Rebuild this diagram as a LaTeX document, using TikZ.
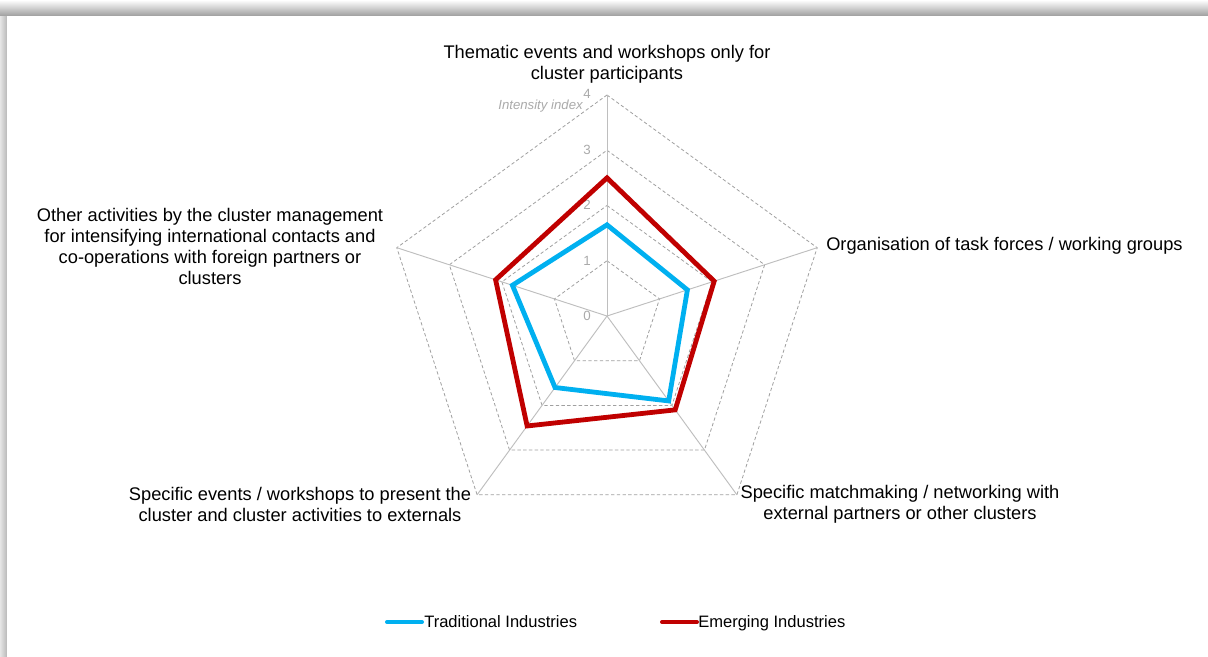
\documentclass[tikz,border=0pt]{standalone}
\usepackage{fontspec}
\setmainfont{Liberation Sans}
\usetikzlibrary{calc}
\definecolor{trad}{RGB}{0,176,240}
\definecolor{emer}{RGB}{192,0,0}
\definecolor{spokegray}{RGB}{190,190,190}
\definecolor{ringgray}{RGB}{160,160,160}
\definecolor{tickgray}{RGB}{170,170,170}
\begin{document}
\begin{tikzpicture}[x=0.75pt,y=-0.75pt,
  spoke/.style={draw=spokegray, line width=0.7pt},
  ring/.style={draw=ringgray, dash pattern=on 2.5pt off 1.8pt, line width=0.6pt},
  series/.style={line width=3.6pt, line join=miter},
  axlabel/.style={font=\fontsize{13.7}{15.75}\selectfont, align=center, inner sep=0pt},
  ticklabel/.style={text=tickgray, font=\fontsize{10}{11}\selectfont, inner sep=0pt},
  legtext/.style={font=\fontsize{12.4}{13}\selectfont, inner sep=0pt, anchor=base west}]
\useasboundingbox (0,0) rectangle (1208,657);
% panel shadow
\shade[top color=white, bottom color=black!38] (0,0) rectangle (1208,16);
\shade[left color=black!10, right color=black!28] (0,16) rectangle (7,657);
\fill[white] (7,16) rectangle (1208,657);
% radar geometry
\coordinate (O) at (607,316);
\def\u{55.25}
\foreach \k in {0,...,4}{
  \foreach \r in {1,2,3,4}{
    \coordinate (R\r-\k) at ($(O)+({72*\k-90}:{\r*\u})$);
  }
}
% rings
\foreach \r in {1,2,3,4}{
  \draw[ring] (R\r-0) -- (R\r-1) -- (R\r-2) -- (R\r-3) -- (R\r-4) -- cycle;
}
% spokes
\foreach \k in {0,...,4}{
  \draw[spoke] (O) -- (R4-\k);
}
% tick labels
\node[ticklabel] (t0) at (587,316) {0};
\node[ticklabel] (t1) at (587,261) {1};
\node[ticklabel] (t2) at (587,205) {2};
\node[ticklabel] (t3) at (587,150) {3};
\node[ticklabel] (t4) at (587,94) {4};
\node[ticklabel, anchor=east, font=\itshape\fontsize{9.9}{11}\selectfont] (ii) at (583,106) {Intensity index};
% series
\coordinate (T0) at ($(O)+(-90:{1.65*\u})$);
\coordinate (T1) at ($(O)+(-18:{1.53*\u})$);
\coordinate (T2) at ($(O)+(54:{1.9*\u})$);
\coordinate (T3) at ($(O)+(126:{1.6*\u})$);
\coordinate (T4) at ($(O)+(198:{1.8*\u})$);
\coordinate (E0) at ($(O)+(-90:{2.5*\u})$);
\coordinate (E1) at ($(O)+(-18:{2.04*\u})$);
\coordinate (E2) at ($(O)+(54:{2.1*\u})$);
\coordinate (E3) at ($(O)+(126:{2.46*\u})$);
\coordinate (E4) at ($(O)+(198:{2.12*\u})$);
\draw[series, trad] (T0) -- (T1) -- (T2) -- (T3) -- (T4) -- cycle;
\draw[series, emer] (E0) -- (E1) -- (E2) -- (E3) -- (E4) -- cycle;
% axis labels
\node[axlabel] (L0) at (607,64.5) {Thematic events and workshops only for\\cluster participants};
\node[axlabel, anchor=west] (L1) at (826,246) {Organisation of task forces / working groups};
\node[axlabel] (L2) at (900,504) {Specific matchmaking / networking with\\external partners or other clusters};
\node[axlabel] (L3) at (300,504) {Specific events / workshops to present the\\cluster and cluster activities to externals};
\node[axlabel] (L4) at (210,246) {Other activities by the cluster management\\for intensifying international contacts and\\co-operations with foreign partners or\\clusters};
% legend
\coordinate (la) at (387,622);
\coordinate (lb) at (422,622);
\coordinate (lc) at (662,622);
\coordinate (ld) at (697,622);
\draw[series, trad, line cap=round, line width=3pt] (la) -- (lb);
\node[legtext] (lt) at (424,627.5) {Traditional Industries};
\draw[series, emer, line cap=round, line width=3pt] (lc) -- (ld);
\node[legtext] (le) at (698,627.5) {Emerging Industries};
\end{tikzpicture}
\end{document}
